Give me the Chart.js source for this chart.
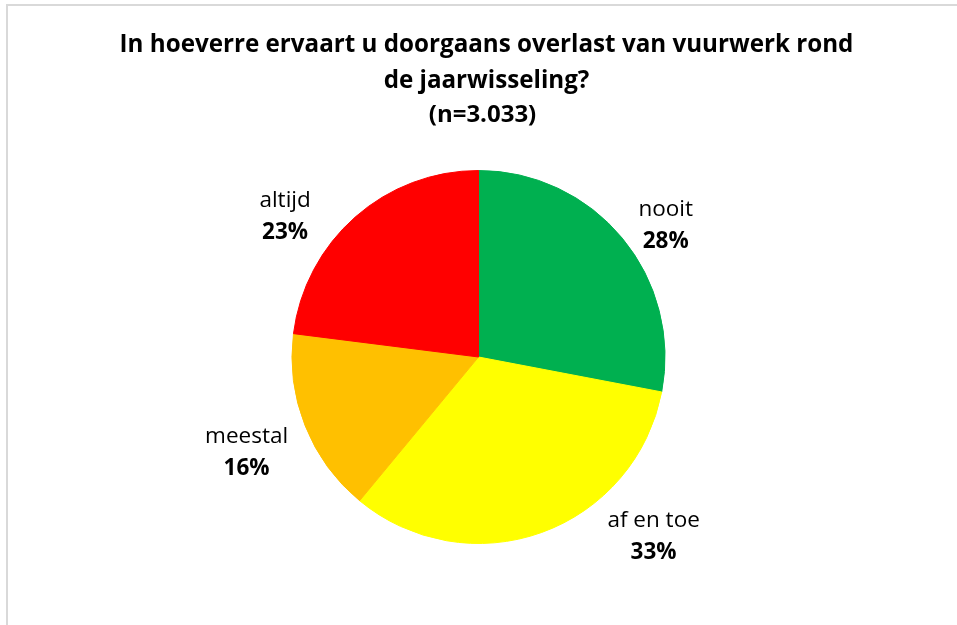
<!DOCTYPE html>
<html lang="nl">
<head>
    <meta charset="UTF-8">
    <title>Overlast vuurwerk</title>
    <script src="https://cdn.jsdelivr.net/npm/chart.js"></script>
    <style>
        html, body { margin: 0; padding: 0; background: #fff; overflow: hidden; }
        #frame { position: absolute; left: 6px; top: 4px; width: 1000px; height: 700px; border: 2px solid #d9d9d9; }
        #wrap { position: absolute; left: 0; top: 0; width: 957px; height: 625px; }
    </style>
</head>
<body>
    <div id="frame"></div>
    <div id="wrap"><canvas id="pieChart" width="957" height="625"></canvas></div>

    <script>
        // chart data
        const categories = ['nooit', 'af en toe', 'meestal', 'altijd'];
        const percentages = [28, 33, 16, 23];
        const sliceColors = ['#00B050', '#FFFF00', '#FFC000', '#FF0000'];
        const titleLines = ['In hoeverre ervaart u doorgaans overlast van vuurwerk rond', 'de jaarwisseling?'];
        const subtitleText = '(n=3.033)';

        const fontFamily = "'Open Sans', 'Noto Sans', sans-serif";

        // title block, drawn a bit right of the canvas centre like the original
        const titleBlock = {
            id: 'titleBlock',
            afterDraw(chart) {
                const ctx = chart.ctx;
                const cx = chart.width / 2;
                ctx.save();
                ctx.fillStyle = '#000';
                ctx.textAlign = 'center';
                ctx.textBaseline = 'alphabetic';
                ctx.font = 'bold 24.2px ' + fontFamily;
                ctx.fillText(titleLines[0], cx + 8, 52);
                ctx.fillText(titleLines[1], cx + 8, 88);
                ctx.font = 'bold 24px ' + fontFamily;
                ctx.fillText(subtitleText, cx + 4, 122);
                ctx.restore();
            }
        };

        // draws "category / percent" labels outside the slices
        const outsideLabels = {
            id: 'outsideLabels',
            afterDatasetsDraw(chart, args, opts) {
                const ctx = chart.ctx;
                const arcs = chart.getDatasetMeta(0).data;
                ctx.save();
                ctx.textAlign = 'center';
                ctx.textBaseline = 'middle';
                ctx.fillStyle = '#000';
                arcs.forEach((arc, i) => {
                    const mid = (arc.startAngle + arc.endAngle) / 2;
                    const dist = arc.outerRadius + opts.distance;
                    const nudge = opts.nudges[i] || [0, 0];
                    const x = arc.x + Math.cos(mid) * dist + nudge[0];
                    const y = arc.y + Math.sin(mid) * dist + nudge[1];
                    ctx.font = '22.5px ' + fontFamily;
                    ctx.fillText(categories[i], x, y - 15);
                    ctx.font = 'bold 22.5px ' + fontFamily;
                    ctx.fillText(percentages[i] + '%', x, y + 17);
                });
                ctx.restore();
            }
        };

        const config = {
            type: 'pie',
            data: {
                labels: categories,
                datasets: [{
                    data: percentages,
                    backgroundColor: sliceColors,
                    borderColor: sliceColors,
                    borderWidth: 1
                }]
            },
            options: {
                responsive: false,
                animation: false,
                layout: { padding: { top: 170, bottom: 81, left: 0, right: 0 } },
                plugins: {
                    legend: { display: false },
                    tooltip: { enabled: false },
                    title: { display: false },
                    outsideLabels: {
                        distance: 50,
                        nudges: [[5, 18], [95, -44], [-12, 8], [-37, 36]]
                    }
                }
            },
            plugins: [outsideLabels, titleBlock]
        };

        const ctx = document.getElementById('pieChart').getContext('2d');
        const pieChart = new Chart(ctx, config);
    </script>
</body>
</html>
